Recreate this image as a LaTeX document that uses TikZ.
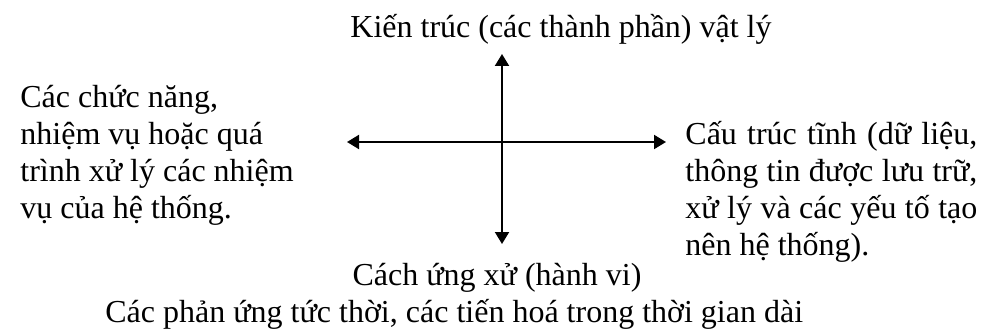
\documentclass[tikz,border=0pt]{standalone}
\usepackage{fontspec}
\setmainfont{Liberation Serif}
\usetikzlibrary{arrows.meta}
\newcommand{\jline}[1]{\makebox[146pt][s]{#1}}
\begin{document}
\begin{tikzpicture}[x=0.5pt,y=-0.5pt,
  lbl/.style={inner sep=0pt,font=\fontsize{16pt}{18.5pt}\selectfont},
  arr/.style={line width=1pt,{Triangle[length=6pt,width=7pt]}-{Triangle[length=6pt,width=7pt]}}]
\useasboundingbox (0,0) rectangle (989,331);
\node[lbl,anchor=base west] (top) at (350,38) {Kiến trúc (các thành phần) vật lý};
\node[lbl,anchor=base west,align=left] (left) at (20,219) {Các chức năng,\\nhiệm vụ hoặc quá\\trình xử lý các nhiệm\\vụ của hệ thống.};
\node[lbl,anchor=base west,align=left] (right) at (685,256) {\jline{Cấu trúc tĩnh (dữ liệu,}\\\jline{thông tin được lưu trữ,}\\\jline{xử lý và các yếu tố tạo}\\nên hệ thống).};
\node[lbl,anchor=base] (bot) at (497,285) {Cách ứng xử (hành vi)};
\node[lbl,anchor=base west] (bot2) at (105,322) {Các phản ứng tức thời, các tiến hoá trong thời gian dài};
\coordinate (n) at (502,54);
\coordinate (s) at (502,244);
\coordinate (w) at (347,142);
\coordinate (e) at (666,142);
\draw[arr] (n) -- (s);
\draw[arr] (w) -- (e);
\end{tikzpicture}
\end{document}
